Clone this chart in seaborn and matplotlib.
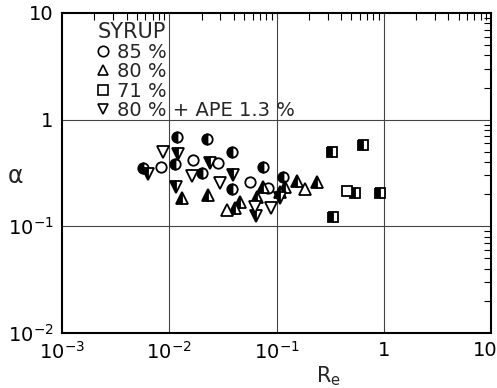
import numpy as np
import matplotlib
matplotlib.use("Agg")
import matplotlib.pyplot as plt
import matplotlib.transforms as mtransforms
import seaborn as sns
from matplotlib.lines import Line2D
from matplotlib.ticker import FixedLocator, FixedFormatter, LogLocator, NullFormatter

# syrup 85 % (circles)
c_half_re = [0.0057, 0.0118, 0.0225, 0.0385, 0.0113, 0.0202, 0.0748, 0.115, 0.0385]
c_half_a = [0.352, 0.689, 0.659, 0.498, 0.384, 0.316, 0.360, 0.290, 0.222]
c_open_re = [0.0084, 0.0167, 0.0285, 0.0566, 0.0834]
c_open_a = [0.360, 0.419, 0.393, 0.261, 0.229]

# syrup 80 % (triangles up)
tu_half_re = [0.0131, 0.0230, 0.0410, 0.0457, 0.0748, 0.120, 0.155, 0.239, 0.108, 0.0658]
tu_half_a = [0.185, 0.197, 0.149, 0.169, 0.234, 0.234, 0.266, 0.261, 0.210, 0.189]
tu_open_re = [0.0345, 0.185]
tu_open_a = [0.143, 0.224]

# syrup 71 % (squares)
sq_half_re = [0.329, 0.641, 0.540, 0.923, 0.336]
sq_half_a = [0.498, 0.579, 0.206, 0.206, 0.123]
sq_open_re = [0.454]
sq_open_a = [0.215]

# syrup 80 % + APE 1.3 % (triangles down)
td_half_re = [0.0063, 0.0121, 0.0240, 0.0393, 0.0115, 0.0644, 0.108]
td_half_a = [0.31, 0.478, 0.393, 0.303, 0.234, 0.125, 0.185]
td_open_re = [0.0088, 0.0163, 0.0297, 0.0631, 0.089]
td_open_a = [0.498, 0.297, 0.255, 0.152, 0.149]

legend_labels = ["85 %", "80 %", "71 %", "80 % + APE 1.3 %"]

sns.set_style("white")
plt.rcParams["font.family"] = ["DejaVu Sans"]

fig = plt.figure(figsize=(4.97, 3.88), dpi=100)
ax = fig.add_axes([0.1247, 0.142, 0.8633, 0.8245])

groups = [
    (c_half_re, c_half_a, "o", "left", 7.5),
    (c_open_re, c_open_a, "o", "none", 7.5),
    (tu_half_re, tu_half_a, "^", "left", 8),
    (tu_open_re, tu_open_a, "^", "none", 8),
    (sq_half_re, sq_half_a, "s", "left", 7),
    (sq_open_re, sq_open_a, "s", "none", 7),
    (td_half_re, td_half_a, "v", "left", 8),
    (td_open_re, td_open_a, "v", "none", 8),
]
for xs, ys, mk, fs, ms in groups:
    kw = dict(marker=mk, markersize=ms, markeredgecolor="black", markeredgewidth=1.3, linestyle="")
    if fs == "left":
        kw.update(fillstyle="left", markerfacecolor="black", markerfacecoloralt="white")
    else:
        kw.update(markerfacecolor="white")
    sns.lineplot(x=xs, y=ys, estimator=None, sort=False, ax=ax, color="black", **kw)

ax.set_xscale("log")
ax.set_yscale("log")
ax.set_xlim(1e-3, 10)
ax.set_ylim(1e-2, 10)

for v in [1e-2, 1e-1, 1]:
    ax.axvline(v, color="#444444", lw=0.8, zorder=0)
for v in [1e-1, 1]:
    ax.axhline(v, color="#444444", lw=0.8, zorder=0)

ax.xaxis.set_major_locator(FixedLocator([1e-3, 1e-2, 1e-1, 1, 10]))
ax.xaxis.set_major_formatter(FixedFormatter([r"$10^{-3}$", r"$10^{-2}$", r"$10^{-1}$", "1", "10"]))
ax.yaxis.set_major_locator(FixedLocator([1e-2, 1e-1, 1, 10]))
ax.yaxis.set_major_formatter(FixedFormatter([r"$10^{-2}$", r"$10^{-1}$", "1", "10"]))
for axis in (ax.xaxis, ax.yaxis):
    axis.set_minor_locator(LogLocator(base=10, subs=np.arange(2, 10), numticks=20))
    axis.set_minor_formatter(NullFormatter())
ax.tick_params(which="both", direction="in", top=True, right=True, labelsize=14, colors="black")
ax.tick_params(which="major", length=0, pad=6)
ax.tick_params(which="minor", length=5, width=0.8)
for s in ax.spines.values():
    s.set_color("black")
    s.set_linewidth(1.5)

# keep the last x label inside the figure
last = ax.get_xticklabels()[-1]
last.set_transform(last.get_transform() + mtransforms.ScaledTranslation(-6 / 100, 0, fig.dpi_scale_trans))

ax.set_xlabel(r"R$_\mathregular{e}$", fontsize=15)
ax.xaxis.set_label_coords(0.62, -0.1)
ax.set_ylabel("α", fontsize=17, rotation=0, va="center", ha="center")
ax.yaxis.set_label_coords(-0.108, 0.49)

markers = ["o", "^", "s", "v"]
handles = [Line2D([], [], marker=m, linestyle="", markersize=7.5, markerfacecolor="white",
                  markeredgecolor="black", markeredgewidth=1.2) for m in markers]
leg = ax.legend(handles, legend_labels, title="SYRUP", loc="upper left", frameon=False,
                fontsize=14, title_fontsize=15, handlelength=0.6, handletextpad=0.4,
                labelspacing=0.02, borderaxespad=0.0, bbox_to_anchor=(0.065, 0.995))
leg._legend_box.align = "left"

fig.savefig("out.png", dpi=100)
